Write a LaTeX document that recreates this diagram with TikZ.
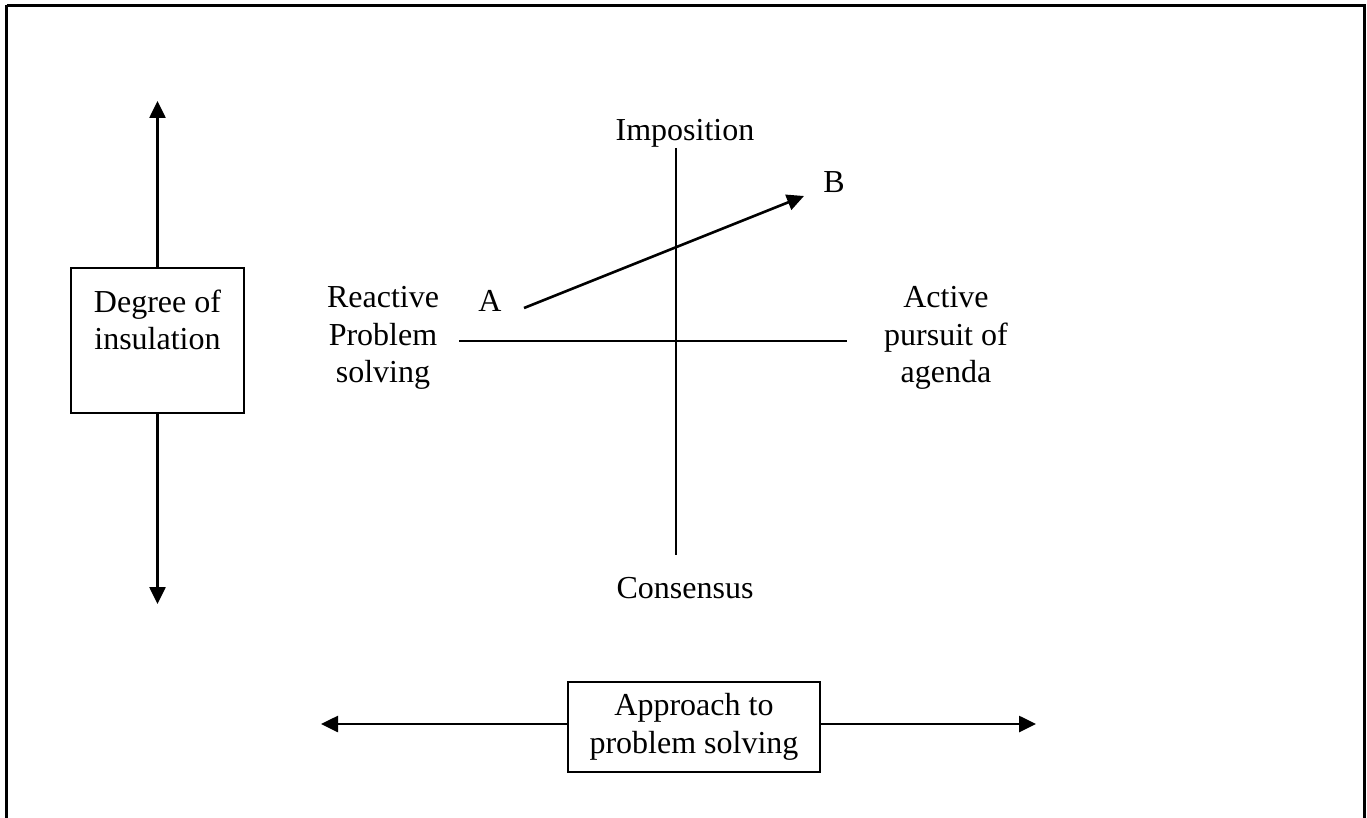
\documentclass[tikz,border=0pt]{standalone}
\usepackage{fontspec}
\setmainfont{Liberation Serif}
\usetikzlibrary{arrows.meta}
\begin{document}
\begin{tikzpicture}[x=1pt,y=-1pt,
  lbl/.style={inner sep=0pt,align=center,font=\fontsize{32}{37.5}\selectfont},
  boxnode/.style={draw,line width=2.2pt,inner sep=0pt},
  ax/.style={line width=2.2pt},
  arr/.style={line width=2.6pt,-{Triangle[length=17pt,width=16pt]}}]
\useasboundingbox (0,0) rectangle (1367,818);
% outer frame
\draw[line width=3pt] (6.5,5.5) -- (1364.5,5.5) -- (1364.5,830) (6.5,5.5) -- (6.5,830);
% left box
\node[boxnode,minimum width=173pt,minimum height=145pt] (deg) at (157.5,340.5) {};
\node[lbl] (degt) at (157.5,320) {Degree of\\insulation};
\coordinate (degtop) at (157.5,101);
\coordinate (degbot) at (157.5,604);
\draw[arr] (deg.north) -- (degtop);
\draw[arr] (deg.south) -- (degbot);
% bottom box
\node[boxnode,minimum width=252pt,minimum height=90pt,lbl] (app) at (694,727) {Approach to\\problem solving};
\coordinate (appl) at (321,724);
\coordinate (appr) at (1036,724);
\draw[arr] (app.west |- appl) -- (appl);
\draw[arr] (app.east |- appr) -- (appr);
% axes
\coordinate (hl) at (459,341);
\coordinate (hr) at (847,341);
\coordinate (vt) at (676,148);
\coordinate (vb) at (676,555);
\draw[ax] (hl) -- (hr);
\draw[ax] (vt) -- (vb);
% labels
\node[lbl] (imp) at (685,133) {Imposition};
\node[lbl] (con) at (685,588) {Consensus};
\node[lbl] (rea) at (383,338) {Reactive\\Problem\\solving};
\node[lbl] (act) at (946,338) {Active\\pursuit of\\agenda};
\node[lbl] (A) at (490,301) {A};
\node[lbl] (B) at (834,182) {B};
% A to B
\coordinate (as) at (524,308);
\coordinate (bt) at (804,196);
\draw[arr] (as) -- (bt);
\end{tikzpicture}
\end{document}
